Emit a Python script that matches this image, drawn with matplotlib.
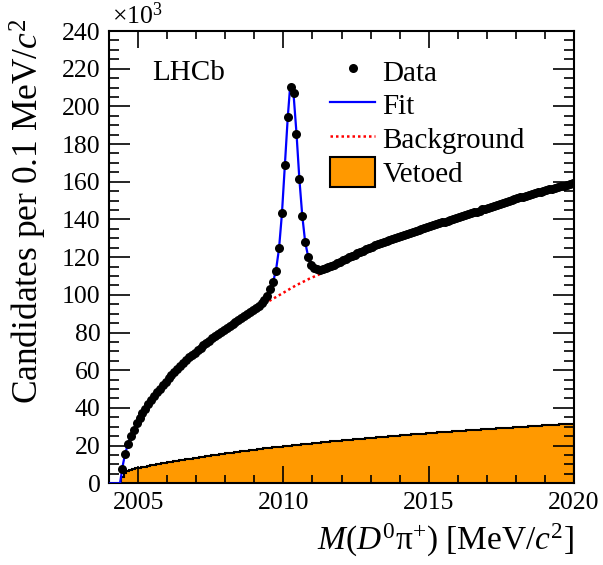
import numpy as np
import matplotlib
matplotlib.use("Agg")
import matplotlib.pyplot as plt
from matplotlib.lines import Line2D
from matplotlib.patches import Patch
from matplotlib.ticker import MultipleLocator

plt.rcParams['font.family'] = ['Liberation Serif', 'DejaVu Serif']
plt.rcParams['mathtext.fontset'] = 'custom'
plt.rcParams['mathtext.rm'] = 'Liberation Serif'
plt.rcParams['mathtext.it'] = 'Liberation Serif:italic'
plt.rcParams['mathtext.bf'] = 'Liberation Serif:bold'

# ---------------- data (values in units of 10^3) ----------------
bin_width = 0.1
data_first_center = 2004.45
data_counts = [
    7.4, 15.4, 20.8, 25.0, 28.5, 31.8,
    34.6, 37.2, 39.6, 42.0, 44.2, 46.3, 48.3, 50.3, 52.2, 54.0,
    55.8, 57.5, 59.1, 60.7, 62.3, 63.8, 65.3, 66.8, 68.1, 69.4,
    70.7, 72.0, 73.2, 74.5, 75.7, 76.9, 78.0, 79.1, 80.2, 81.3,
    82.4, 83.4, 84.5, 85.5, 86.6, 87.6, 88.6, 89.6, 90.7, 91.8,
    93.0, 94.3, 95.8, 97.5, 99.3, 102.9, 106.6, 112.8, 124.7, 143.2,
    168.9, 194.5, 210.4, 207.2, 185.5, 161.4, 141.8, 127.8, 120.2, 116.0,
    114.3, 113.6, 113.2, 113.5, 114.0, 114.6, 115.2, 116.0, 116.8, 117.6,
    118.5, 119.2, 119.9, 120.6, 121.3, 122.0, 122.7, 123.4, 124.1, 124.8,
    125.5, 126.2, 126.8, 127.4, 128.0, 128.6, 129.1, 129.7, 130.2, 130.8,
    131.3, 131.8, 132.3, 132.8, 133.3, 133.8, 134.3, 134.8, 135.3, 135.9,
    136.4, 136.9, 137.4, 137.9, 138.4, 138.9, 139.4, 139.9, 140.4, 140.9,
    141.3, 141.8, 142.3, 142.7, 143.2, 143.7, 144.2, 144.7, 145.3, 145.8,
    146.3, 146.8, 147.3, 147.9, 148.4, 148.9, 149.4, 149.9, 150.3, 150.8,
    151.2, 151.7, 152.1, 152.6, 153.0, 153.5, 153.9, 154.4, 154.8, 155.2,
    155.6, 156.0, 156.4, 156.8, 157.2, 157.6, 158.0, 158.4, 158.8, 159.2,
]

veto_first_edge = 2004.4
veto_counts = [
    3.5, 5.3, 6.3, 7.0, 7.5, 7.9,
    8.3, 8.6, 8.9, 9.2, 9.5, 9.8, 10.1, 10.4, 10.7, 10.9,
    11.2, 11.4, 11.7, 11.9, 12.2, 12.4, 12.7, 12.9, 13.1, 13.4,
    13.6, 13.8, 14.1, 14.3, 14.5, 14.8, 15.0, 15.2, 15.4, 15.7,
    15.9, 16.1, 16.3, 16.5, 16.7, 16.9, 17.1, 17.3, 17.5, 17.7,
    17.9, 18.1, 18.3, 18.5, 18.7, 18.8, 19.0, 19.2, 19.4, 19.5,
    19.7, 19.9, 20.0, 20.2, 20.4, 20.5, 20.7, 20.8, 21.0, 21.1,
    21.3, 21.4, 21.6, 21.7, 21.9, 22.0, 22.2, 22.3, 22.5, 22.6,
    22.8, 22.9, 23.0, 23.2, 23.3, 23.5, 23.6, 23.7, 23.9, 24.0,
    24.1, 24.3, 24.4, 24.5, 24.7, 24.8, 24.9, 25.1, 25.2, 25.3,
    25.4, 25.6, 25.7, 25.8, 25.9, 26.1, 26.2, 26.3, 26.4, 26.5,
    26.7, 26.8, 26.9, 27.0, 27.1, 27.2, 27.3, 27.4, 27.6, 27.7,
    27.8, 27.9, 28.0, 28.1, 28.2, 28.3, 28.4, 28.5, 28.6, 28.7,
    28.8, 28.9, 29.0, 29.1, 29.2, 29.3, 29.4, 29.5, 29.6, 29.7,
    29.8, 29.9, 30.0, 30.1, 30.2, 30.3, 30.4, 30.5, 30.6, 30.7,
    30.8, 30.9, 31.0, 31.1, 31.2, 31.3, 31.4, 31.5, 31.6, 31.7,
]

fit_mass = [2004.0, 2004.38, 2004.42, 2004.45, 2004.5, 2004.55, 2004.65, 2004.75,
            2004.9, 2005.1, 2005.5, 2006.0, 2006.5, 2007.0, 2007.5, 2008.0,
            2008.5, 2009.0, 2009.25, 2009.45, 2009.55, 2009.65, 2009.75, 2009.85,
            2009.95, 2010.05, 2010.15, 2010.22, 2010.28, 2010.35, 2010.45, 2010.55,
            2010.65, 2010.75, 2010.85, 2010.95, 2011.05, 2011.2, 2011.4, 2012.0,
            2013.0, 2014.0, 2015.0, 2016.0, 2017.0, 2018.0, 2019.0, 2020.0]
fit_vals = [0.0, 0.0, 4.0, 7.5, 11.5, 15.3, 20.8, 25.0,
            30.2, 36.0, 45.3, 55.0, 63.0, 70.0, 76.3, 81.8,
            87.1, 92.4, 95.6, 99.2, 102.6, 107.0, 113.5, 124.5,
            143.0, 168.5, 194.0, 208.0, 211.0, 206.5, 186.0, 161.5,
            142.0, 128.0, 120.5, 116.5, 114.6, 113.6, 113.8, 118.2,
            125.3, 131.0, 136.1, 141.1, 146.0, 151.0, 155.4, 159.4]

bkg_mass = [2009.35, 2009.9, 2010.43, 2010.9, 2011.3]
bkg_vals = [95.3, 100.2, 105.0, 108.6, 111.3]

x_ticks = [2005, 2010, 2015, 2020]
y_ticks = [0, 20, 40, 60, 80, 100, 120, 140, 160, 180, 200, 220, 240]

# ---------------- figure ----------------
W, H = 603, 565
fig = plt.figure(figsize=(W / 100, H / 100), dpi=100)
ax = fig.add_axes([109 / W, 1 - 483.3 / H, (574 - 109) / W, (483.3 - 31) / H])

data_centers = data_first_center + bin_width * np.arange(len(data_counts))
veto_edges = veto_first_edge + bin_width * np.arange(len(veto_counts) + 1)

orange = '#ff9900'
ax.stairs(veto_counts, veto_edges, fill=True, color=orange, zorder=1)
ax.stairs(veto_counts, veto_edges, color='black', lw=1.5, zorder=2)
ax.plot(bkg_mass, bkg_vals, color='red', lw=1.8, ls=(0, (1, 1.2)), zorder=3)
ax.plot(fit_mass, fit_vals, color='blue', lw=1.6, zorder=4)
ax.plot(data_centers, data_counts, 'o', color='black', ms=6.5, mew=0, zorder=5)

ax.set_xlim(2004.0, 2020.0)
ax.set_ylim(0, 240)
ax.set_xticks(x_ticks)
ax.set_yticks(y_ticks)
ax.xaxis.set_minor_locator(MultipleLocator(1))
ax.yaxis.set_minor_locator(MultipleLocator(5))
ax.tick_params(which='both', direction='in', top=True, right=True, width=1.2)
ax.tick_params(which='major', axis='x', length=12, labelsize=18.5, pad=6)
ax.tick_params(which='minor', axis='x', length=6)
ax.tick_params(which='major', axis='y', length=15, labelsize=18.5, pad=6)
ax.tick_params(which='minor', axis='y', length=7)
for s in ax.spines.values():
    s.set_linewidth(1.5)

fig.text(112 / W, 1 - 16 / H, r'$\times$10$^{3}$', fontsize=18.5, ha='left', va='center')
fig.text(28 / W, 1 - 18 / H, r'Candidates per 0.1 MeV/$c^{2}$', rotation=90,
         fontsize=25.5, ha='center', va='top')
fig.text(574 / W, 1 - 540 / H, r'$M(D^{0}\mathrm{\pi}^{+})$ [MeV/$c^{2}$]',
         fontsize=24, ha='right', va='center')
fig.text(152 / W, 1 - 73 / H, 'LHCb', fontsize=21, ha='left', va='center')

handles = [
    Line2D([], [], marker='o', color='black', ls='none', ms=6.5, mew=0),
    Line2D([], [], color='blue', lw=1.6),
    Line2D([], [], color='red', lw=1.8, ls=(0, (1, 1.2))),
    Patch(facecolor=orange, edgecolor='black', lw=1.5),
]
labels = ['Data', 'Fit', 'Background', 'Vetoed']
leg = ax.legend(handles, labels, loc='upper left',
                bbox_to_anchor=(330 / W, 1 - 56 / H), bbox_transform=fig.transFigure,
                frameon=False, fontsize=21, handlelength=1.55, handleheight=1.2,
                handletextpad=0.25, labelspacing=0.1, borderpad=0, borderaxespad=0)

fig.savefig('out.png', dpi=100)
